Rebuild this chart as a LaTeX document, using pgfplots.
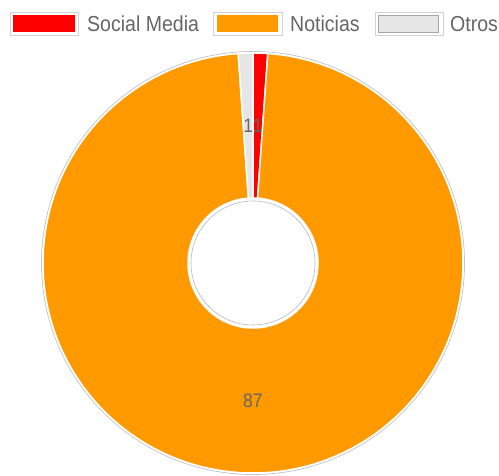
\documentclass[border=0pt]{standalone}
\usepackage{pgfplots}
\pgfplotsset{compat=1.18}
\usepackage{pgfplotstable}
\usepackage{fontspec}
\setmainfont{Liberation Sans}[FakeStretch=0.9]
\definecolor{cred}{HTML}{FF0000}
\definecolor{corange}{HTML}{FF9900}
\definecolor{cgrey}{HTML}{E6E6E6}
\definecolor{ctext}{HTML}{666666}

\pgfplotstableread{
value
1
87
1
}\datatable

\pgfplotstablegetelem{0}{value}\of\datatable \let\va\pgfplotsretval
\pgfplotstablegetelem{1}{value}\of\datatable \let\vb\pgfplotsretval
\pgfplotstablegetelem{2}{value}\of\datatable \let\vc\pgfplotsretval

\pgfmathsetmacro{\tot}{\va+\vb+\vc}
\pgfmathsetmacro{\aA}{90}
\pgfmathsetmacro{\aB}{90-(360/\tot)*\va}
\pgfmathsetmacro{\aC}{\aB-(360/\tot)*\vb}
\pgfmathsetmacro{\aD}{\aC-(360/\tot)*\vc}
\pgfmathsetmacro{\mA}{(\aA+\aB)/2}
\pgfmathsetmacro{\mB}{(\aB+\aC)/2}
\pgfmathsetmacro{\mC}{(\aC+\aD)/2}

\def\cx{253}
\def\cy{212}
\def\Ro{210}
\def\Ri{65}
\def\Rl{137.5}

\newcommand{\sector}[4]{%
  \fill[#1, draw=#4, line width=1.5pt, line join=round]
    ([shift={(#2:\Ro pt)}]axis cs:\cx,\cy) arc[start angle=#2, end angle=#3, radius=\Ro pt]
    -- ([shift={(#3:\Ri pt)}]axis cs:\cx,\cy) arc[start angle=#3, end angle=#2, radius=\Ri pt]
    -- cycle;}

\begin{document}
\begin{tikzpicture}
\useasboundingbox (0,0) rectangle (499pt,475pt);
\begin{axis}[
  scale only axis, width=499pt, height=475pt,
  xmin=0, xmax=499, ymin=0, ymax=475,
  enlargelimits=false, hide axis, clip=false,
]
\addplot[draw=none, mark=none, forget plot] coordinates {(0,0) (499,475)};
% shadow rings
\draw[gray!45, line width=0.8pt] (axis cs:\cx,\cy) circle[radius=211.5pt];
% sectors
\sector{cred}{\aA}{\aB}{white}
\sector{corange}{\aB}{\aC}{white}
\sector{cgrey}{\aC}{\aD}{white}
\draw[gray!55, line width=0.6pt] (axis cs:\cx,\cy) circle[radius=62pt];
% value labels
\node[text=ctext, inner sep=0pt, font=\fontsize{19.5}{22}\selectfont]
  at ([shift={(\mA:\Rl pt)}]axis cs:\cx,\cy) {\va};
\node[text=ctext, inner sep=0pt, font=\fontsize{19.5}{22}\selectfont]
  at ([shift={(\mC:\Rl pt)}]axis cs:\cx,\cy) {\vc};
\node[text=ctext, inner sep=0pt, font=\fontsize{19.5}{22}\selectfont]
  at ([shift={(\mB:\Rl pt)}]axis cs:\cx,\cy) {\vb};
% legend
\fill[white, draw=gray!35, line width=0.8pt] (axis cs:10,463) rectangle (axis cs:78,440);
\fill[cred] (axis cs:13,460) rectangle (axis cs:75,443);
\node[anchor=base west, inner sep=0pt, text=ctext, font=\fontsize{21.7}{26}\selectfont] at (axis cs:87,443.3) {Social Media};
\fill[white, draw=gray!35, line width=0.8pt] (axis cs:213,463) rectangle (axis cs:282,440);
\fill[corange] (axis cs:217,460) rectangle (axis cs:278,443);
\node[anchor=base west, inner sep=0pt, text=ctext, font=\fontsize{21.7}{26}\selectfont] at (axis cs:290,443.3) {Noticias};
\fill[white, draw=gray!35, line width=0.8pt] (axis cs:375,463) rectangle (axis cs:443,440);
\fill[cgrey, draw=gray!70, line width=0.8pt] (axis cs:378,460) rectangle (axis cs:438,443);
\node[anchor=base west, inner sep=0pt, text=ctext, font=\fontsize{21.7}{26}\selectfont] at (axis cs:450,443.3) {Otros};
\end{axis}
\end{tikzpicture}
\end{document}
